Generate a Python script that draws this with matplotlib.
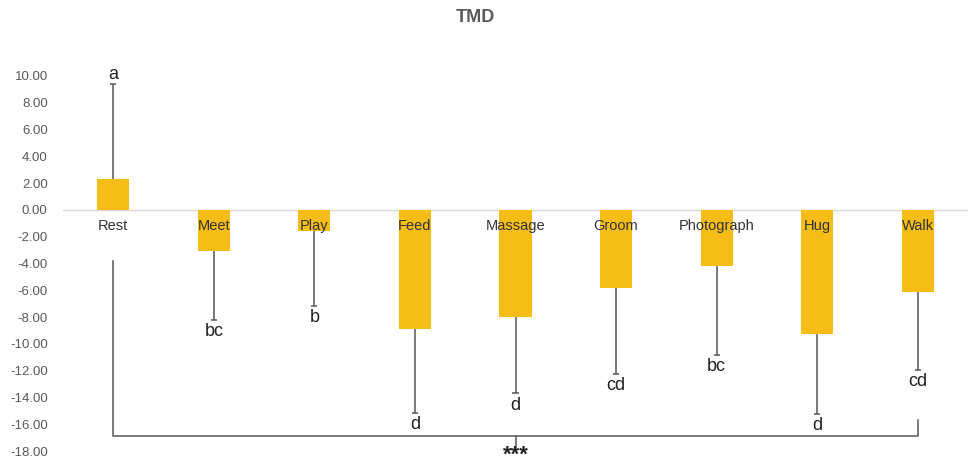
import numpy as np
import matplotlib.pyplot as plt

plt.rcParams['font.family'] = ['Liberation Sans', 'DejaVu Sans']

activities = ['Rest', 'Meet', 'Play', 'Feed', 'Massage', 'Groom', 'Photograph', 'Hug', 'Walk']
tmd_mean = [2.3, -3.05, -1.6, -8.9, -8.0, -5.8, -4.2, -9.25, -6.1]
tmd_err = [7.1, 5.15, 5.55, 6.25, 5.7, 6.45, 6.6, 5.95, 5.85]
groups = ['a', 'bc', 'b', 'd', 'd', 'cd', 'bc', 'd', 'cd']
yticks = np.arange(-18, 11, 2)

fig = plt.figure(figsize=(9.69, 4.65), dpi=100)
ax = fig.add_axes([63/969, 1 - 451/465, 905/969, 375/465])

x = np.arange(len(activities))
mean = np.array(tmd_mean)
err = np.array(tmd_err)

ax.bar(x, mean, width=0.32, color='#F6BD16', zorder=2)

# one-sided error bars pointing away from zero, cap only at the far end
tips = mean + np.sign(mean) * err
ax.vlines(x, mean, tips, color='#555555', lw=1.1, zorder=3)
ax.hlines(tips, x - 0.03, x + 0.03, color='#555555', lw=1.1, zorder=3)

ax.axhline(0, color='#d9d9d9', lw=1, zorder=1)

for xi, name in zip(x, activities):
    ax.text(xi, -1.2, name, ha='center', va='center', fontsize=10.5,
            color='#333333', zorder=4)

for xi, t, g in zip(x, tips, groups):
    if t > 0:
        ax.text(xi, t + 0.1, g, ha='center', va='bottom', fontsize=13, color='#222222')
    else:
        ax.text(xi, t - 0.25, g, ha='center', va='top', fontsize=13, color='#222222')

# significance bracket across all activities
ax.plot([0, 0, 8, 8], [-3.8, -16.9, -16.9, -15.7], color='#555555', lw=1.1, clip_on=False)
ax.plot([4, 4], [-16.9, -17.8], color='#555555', lw=1.1, clip_on=False)
ax.text(4, -18.3, '***', ha='center', va='center', fontsize=16, fontweight='bold',
        color='#222222', clip_on=False)

ax.set_xlim(-0.5, 8.5)
ax.set_ylim(-18, 10)
ax.set_yticks(yticks)
ax.set_yticklabels([f'{v:.2f}' for v in yticks], fontsize=9.5, color='#595959')
ax.set_xticks([])
ax.tick_params(axis='y', length=0, pad=11)
for s in ax.spines.values():
    s.set_visible(False)

fig.text(475/969, 1 - 18/465, 'TMD', ha='center', va='center', fontsize=13,
         fontweight='bold', color='#595959')

fig.savefig('out.png', dpi=100)
